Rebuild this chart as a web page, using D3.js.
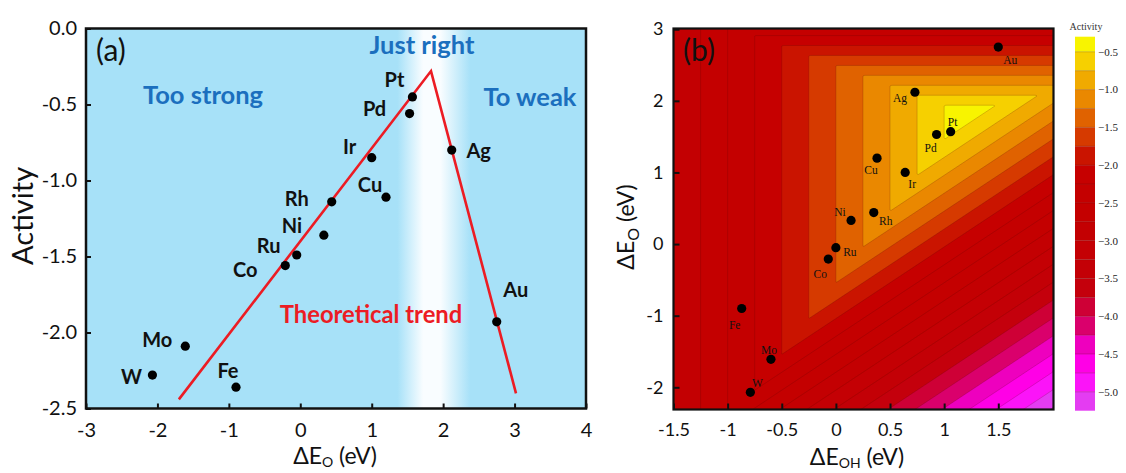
<!DOCTYPE html>
<html>
<head>
<meta charset="utf-8">
<script src="https://cdn.jsdelivr.net/npm/d3@7"></script>
<style>
  body { margin: 0; background: #fff; }
  svg { display: block; font-family: Lato, "Open Sans", sans-serif; }
</style>
</head>
<body>
<div id="viz"></div>
<script>
// ---- data ----
const metals = ['W', 'Mo', 'Fe', 'Co', 'Ru', 'Ni', 'Rh', 'Ir', 'Cu', 'Pd', 'Pt', 'Ag', 'Au']
// binding energy of O (eV), shared by both panels
const deltaEO = [-2.07, -1.61, -0.90, -0.21, -0.05, 0.33, 0.44, 1.00, 1.20, 1.53, 1.57, 2.12, 2.75]
// panel (a): measured activity
const activity = [-2.28, -2.09, -2.36, -1.56, -1.49, -1.36, -1.14, -0.85, -1.11, -0.56, -0.45, -0.80, -1.93]
// panel (b): binding energy of OH (eV)
const deltaEOH = [-0.79, -0.60, -0.87, -0.07, 0.00, 0.14, 0.35, 0.64, 0.38, 0.93, 1.06, 0.73, 1.50]

// theoretical volcano trend in panel (a)
const trendEO = [-1.70, 1.83, 3.02]
const trendActivity = [-2.44, -0.28, -2.40]

// tick labels
const xTicksA = [-3, -2, -1, 0, 1, 2, 3, 4]
const yTicksA = [0, -0.5, -1, -1.5, -2, -2.5]
const xTicksB = [-1.5, -1, -0.5, 0, 0.5, 1, 1.5]
const yTicksB = [3, 2, 1, 0, -1, -2]
const cbTicks = [-0.5, -1, -1.5, -2, -2.5, -3, -3.5, -4, -4.5, -5]

// activity surface of panel (b): min of three linear limbs [slope, intercept]
const limbOH = [1.0, -1.5]      // activity = a*dEOH + b
const limbO = [-1.8, 2.99]      // activity = a*dEO + b
const limbDiff = [1.0, -0.96]   // activity = a*(dEO - dEOH) + b

// contour levels (lower bound of each band) and band colours
const levels = d3.range(-21, -1).map(k => k * 0.25)
const bandColors = ['#e43cf2', '#fb14f8', '#ff00e6', '#ee00be', '#da006c', '#ce0036',
  '#c4000c', '#c30006', '#c40004', '#c30002', '#c40000', '#c40000', '#c60000',
  '#ca1400', '#d63a00', '#e06200', '#ea8800', '#f0aa00', '#f6d000', '#f8f400']

// ---- layout ----
const W = 1126, H = 473
const svg = d3.select('#viz').append('svg').attr('width', W).attr('height', H)
const blue = '#a7e1f8', textBlue = '#1b6fbe', red = '#ec1c24'

// ================= panel (a) =================
const xA = d3.scaleLinear().domain([-3, 4]).range([86, 586])
const yA = d3.scaleLinear().domain([-2.5, 0]).range([408.5, 28.5])

const defs = svg.append('defs')
const grad = defs.append('linearGradient').attr('id', 'band')
  .attr('gradientUnits', 'userSpaceOnUse')
  .attr('x1', xA(-3)).attr('x2', xA(4)).attr('y1', 0).attr('y2', 0)
const gstop = (v, c) => grad.append('stop')
  .attr('offset', (xA(v) - xA(-3)) / (xA(4) - xA(-3))).attr('stop-color', c)
gstop(1.36, blue); gstop(1.72, '#f9fdff'); gstop(1.96, '#f9fdff'); gstop(2.38, blue)

const gA = svg.append('g')
gA.append('rect').attr('x', xA(-3)).attr('y', yA(0))
  .attr('width', xA(4) - xA(-3)).attr('height', yA(-2.5) - yA(0))
  .attr('fill', 'url(#band)')

const axA = gA.append('g').attr('transform', `translate(0,${yA(-2.5)})`)
  .call(d3.axisBottom(xA).tickValues(xTicksA).tickSize(-5).tickPadding(14).tickFormat(d => String(d)))
const ayA = gA.append('g').attr('transform', `translate(${xA(-3)},0)`)
  .call(d3.axisLeft(yA).tickValues(yTicksA).tickSize(-5).tickPadding(9).tickFormat(d => d.toFixed(1)))
for (const ax of [axA, ayA]) {
  ax.select('.domain').remove()
  ax.selectAll('.tick line').attr('stroke', '#111').attr('stroke-width', 2)
  ax.selectAll('.tick text').attr('font-size', 20).attr('fill', '#111').attr('font-family', 'Lato, sans-serif')
}

gA.append('path')
  .attr('d', d3.line()(trendEO.map((v, i) => [xA(v), yA(trendActivity[i])])))
  .attr('fill', 'none').attr('stroke', red).attr('stroke-width', 2.6)

gA.selectAll('circle.pt').data(metals).join('circle')
  .attr('cx', (d, i) => xA(deltaEO[i])).attr('cy', (d, i) => yA(activity[i]))
  .attr('r', 4.6).attr('fill', '#000')

const offA = { W: [-21, 2], Mo: [-28, -6], Fe: [-8, -16], Co: [-40, 4], Ru: [-28, -9], Ni: [-32, -9],
  Rh: [-35, -3], Ir: [-22, -11], Cu: [-16, -12], Pd: [-35, -5], Pt: [-18, -17], Ag: [27, 1], Au: [19, -32] }
gA.selectAll('text.lab').data(metals).join('text')
  .attr('x', (d, i) => xA(deltaEO[i]) + offA[d][0])
  .attr('y', (d, i) => yA(activity[i]) + offA[d][1])
  .attr('dy', '0.36em').attr('text-anchor', 'middle')
  .attr('font-size', 20).attr('font-weight', 700).attr('fill', '#111')
  .text(d => d)

const blueText = (t, x, y) => gA.append('text').attr('x', x).attr('y', y).attr('dy', '0.36em')
  .attr('text-anchor', 'middle').attr('font-size', 25.5).attr('font-weight', 700)
  .attr('fill', textBlue).text(t)
blueText('Too strong', 203, 95)
blueText('Just right', 422, 45)
blueText('To weak', 530, 97)
gA.append('text').attr('x', 371).attr('y', 314).attr('dy', '0.36em').attr('text-anchor', 'middle')
  .attr('font-size', 23.8).attr('font-weight', 700).attr('fill', red).text('Theoretical trend')

gA.append('text').attr('x', 96).attr('y', 61).attr('font-size', 30).attr('fill', '#111').text('(a)')

gA.append('rect').attr('x', xA(-3)).attr('y', yA(0))
  .attr('width', xA(4) - xA(-3)).attr('height', yA(-2.5) - yA(0))
  .attr('fill', 'none').attr('stroke', '#111').attr('stroke-width', 2.5)

gA.append('text').attr('transform', 'translate(33,216) rotate(-90)').attr('text-anchor', 'middle')
  .attr('font-size', 29).attr('fill', '#111').text('Activity')
const xlA = gA.append('text').attr('x', 335).attr('y', 464).attr('text-anchor', 'middle')
  .attr('font-size', 23).attr('fill', '#111')
xlA.append('tspan').text('ΔE')
xlA.append('tspan').attr('font-size', 14).attr('dy', 3).text('O')
xlA.append('tspan').attr('dy', -3).text(' (eV)')

// ================= panel (b) =================
const xB = d3.scaleLinear().domain([-1.5, 2.01]).range([673.5, 1053.5])
const yB = d3.scaleLinear().domain([-2.31, 3.01]).range([409.5, 28.5])
const gB = svg.append('g')

defs.append('clipPath').attr('id', 'clipB').append('rect')
  .attr('x', xB(-1.5)).attr('y', yB(3.01))
  .attr('width', xB(2.01) - xB(-1.5)).attr('height', yB(-2.31) - yB(3.01))

const nx = 380, ny = 381
const gx = d3.scaleLinear().domain([0, nx]).range(xB.range())
const gy = d3.scaleLinear().domain([0, ny]).range([yB.range()[1], yB.range()[0]])
const surface = new Float64Array(nx * ny)
for (let j = 0; j < ny; j++) {
  const eo = yB.invert(gy(j + 0.5))
  for (let i = 0; i < nx; i++) {
    const eoh = xB.invert(gx(i + 0.5))
    surface[j * nx + i] = Math.min(
      limbOH[0] * eoh + limbOH[1],
      limbO[0] * eo + limbO[1],
      limbDiff[0] * (eo - eoh) + limbDiff[1])
  }
}
const contours = d3.contours().size([nx, ny]).thresholds(levels)(surface)
const toPx = d3.geoTransform({ point (x, y) { this.stream.point(gx(x), gy(y)) } })
const cpath = d3.geoPath(toPx)

const cg = gB.append('g').attr('clip-path', 'url(#clipB)')
cg.append('rect').attr('x', xB(-1.5)).attr('y', yB(3.01))
  .attr('width', xB(2.01) - xB(-1.5)).attr('height', yB(-2.31) - yB(3.01)).attr('fill', bandColors[0])
cg.selectAll('path').data(contours).join('path')
  .attr('d', cpath)
  .attr('fill', (d, i) => bandColors[i])
  .attr('stroke', 'rgba(80,0,0,0.28)').attr('stroke-width', 0.7)

const axB = gB.append('g').attr('transform', `translate(0,${yB(-2.31)})`)
  .call(d3.axisBottom(xB).tickValues(xTicksB).tickSize(-6).tickPadding(14).tickFormat(d => String(d)))
const ayB = gB.append('g').attr('transform', `translate(${xB(-1.5)},0)`)
  .call(d3.axisLeft(yB).tickValues(yTicksB).tickSize(-6).tickPadding(10).tickFormat(d => String(d)))
for (const ax of [axB, ayB]) {
  ax.select('.domain').remove()
  ax.selectAll('.tick line').attr('stroke', '#111').attr('stroke-width', 2)
  ax.selectAll('.tick text').attr('font-size', 18).attr('fill', '#111').attr('font-family', 'Lato, sans-serif')
}

gB.selectAll('circle.pt').data(metals).join('circle')
  .attr('cx', (d, i) => xB(deltaEOH[i])).attr('cy', (d, i) => yB(deltaEO[i]))
  .attr('r', 4.6).attr('fill', '#000')

const offB = { W: [7, -9], Mo: [-2, -9], Fe: [-7, 16], Co: [-8, 15], Ru: [14, 4], Ni: [-11, -8],
  Rh: [12, 8], Ir: [7, 12], Cu: [-6, 12], Pd: [-6, 13], Pt: [2, -10], Ag: [-15, 6], Au: [12, 13] }
gB.selectAll('text.lab').data(metals).join('text')
  .attr('x', (d, i) => xB(deltaEOH[i]) + offB[d][0])
  .attr('y', (d, i) => yB(deltaEO[i]) + offB[d][1])
  .attr('dy', '0.35em').attr('text-anchor', 'middle')
  .attr('font-family', '"Liberation Serif", "Times New Roman", serif')
  .attr('font-size', 11.5).attr('fill', '#111')
  .text(d => d)

gB.append('text').attr('x', 683).attr('y', 61).attr('font-size', 30).attr('fill', '#111').text('(b)')

gB.append('rect').attr('x', xB(-1.5)).attr('y', yB(3.01))
  .attr('width', xB(2.01) - xB(-1.5)).attr('height', yB(-2.31) - yB(3.01))
  .attr('fill', 'none').attr('stroke', '#111').attr('stroke-width', 2.2)

const ylB = gB.append('text').attr('transform', 'translate(634,227) rotate(-90)')
  .attr('text-anchor', 'middle').attr('font-size', 23).attr('fill', '#111')
ylB.append('tspan').text('ΔE')
ylB.append('tspan').attr('font-size', 16).attr('dy', 5).text('O')
ylB.append('tspan').attr('dy', -5).text(' (eV)')
const xlB = gB.append('text').attr('x', 857).attr('y', 465).attr('text-anchor', 'middle')
  .attr('font-size', 23).attr('fill', '#111')
xlB.append('tspan').text('ΔE')
xlB.append('tspan').attr('font-size', 14).attr('dy', 3).text('OH')
xlB.append('tspan').attr('dy', -3).text(' (eV)')

// colour bar
const cb = d3.scaleLinear().domain([-5.25, -0.3]).range([410.7, 36.7])
const cbg = svg.append('g')
const cbTops = levels.map((v, i) => i === levels.length - 1 ? -0.3 : levels[i + 1])
cbg.selectAll('rect').data(levels).join('rect')
  .attr('x', 1075).attr('width', 20)
  .attr('y', (d, i) => cb(cbTops[i])).attr('height', (d, i) => cb(d) - cb(cbTops[i]))
  .attr('fill', (d, i) => bandColors[i])
cbg.selectAll('line').data(levels.slice(1)).join('line')
  .attr('x1', 1075).attr('x2', 1095).attr('y1', d => cb(d)).attr('y2', d => cb(d))
  .attr('stroke', 'rgba(80,0,0,0.3)').attr('stroke-width', 0.8)
cbg.selectAll('text.tk').data(cbTicks).join('text')
  .attr('x', 1098).attr('y', d => cb(d)).attr('dy', '0.35em')
  .attr('font-family', '"Liberation Serif", "Times New Roman", serif')
  .attr('font-size', 11).attr('fill', '#222')
  .text(d => d3.format('.1f')(d))
cbg.append('text').attr('x', 1086).attr('y', 30).attr('text-anchor', 'middle')
  .attr('font-family', '"Liberation Serif", "Times New Roman", serif')
  .attr('font-size', 10).attr('fill', '#333').text('Activity')
</script>
</body>
</html>
